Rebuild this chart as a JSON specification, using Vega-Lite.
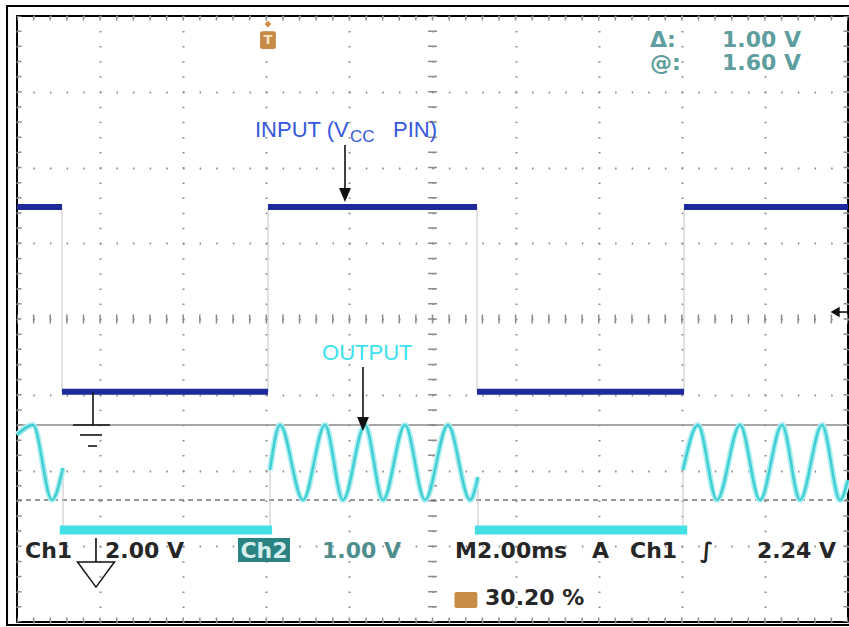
{
  "$schema": "https://vega.github.io/schema/vega-lite/v6.json",
  "width": 831,
  "height": 606,
  "autosize": {"type": "none"},
  "padding": {"left": 17, "top": 16, "right": 1, "bottom": 5},
  "background": "white",
  "config": {"view": {"stroke": "#000", "strokeWidth": 2}},
  "datasets": {
    "frame": [{"t": -0.24, "t2": 20.4, "v": -0.04, "v2": 8.132}],
    "ticksH": [{"t": 0, "t2": 20, "v": 8}, {"t": 0, "t2": 20, "v": 0}, {"t": 0, "t2": 20, "v": 4}],
    "ticksV": [{"t": 0, "v": 0, "v2": 8}, {"t": 20, "v": 0, "v2": 8}, {"t": 10, "v": 0, "v2": 8}],
    "cursorTop": [{"t": 0, "t2": 20, "v": 2.601}],
    "cursorBottom": [{"t": 0, "t2": 20, "v": 1.611}],
    "edges": [
      {"t": 1.083, "v": 3.04, "v2": 5.479},
      {"t": 6.041, "v": 3.04, "v2": 5.479},
      {"t": 11.071, "v": 3.04, "v2": 5.479},
      {"t": 16.053, "v": 3.04, "v2": 5.479},
      {"t": 1.107, "v": 1.215, "v2": 2.033},
      {"t": 6.089, "v": 1.215, "v2": 2.007},
      {"t": 11.095, "v": 1.215, "v2": 1.914},
      {"t": 16.029, "v": 1.215, "v2": 2.007}
    ],
    "outputOff": [{"t": 1.03, "t2": 6.14, "v": 1.215}, {"t": 11.02, "t2": 16.13, "v": 1.215}],
    "output": [
      {"seg": 1, "t": 0, "v": 2.47},
      {"seg": 1, "t": 0.385, "v": 2.601},
      {"seg": 1, "t": 0.842, "v": 1.611},
      {"seg": 1, "t": 1.107, "v": 2.033},
      {"seg": 2, "t": 6.089, "v": 2.007},
      {"seg": 2, "t": 6.33, "v": 2.601},
      {"seg": 2, "t": 6.883, "v": 1.611},
      {"seg": 2, "t": 7.413, "v": 2.601},
      {"seg": 2, "t": 7.846, "v": 1.611},
      {"seg": 2, "t": 8.375, "v": 2.601},
      {"seg": 2, "t": 8.809, "v": 1.611},
      {"seg": 2, "t": 9.338, "v": 2.601},
      {"seg": 2, "t": 9.82, "v": 1.611},
      {"seg": 2, "t": 10.373, "v": 2.601},
      {"seg": 2, "t": 10.903, "v": 1.611},
      {"seg": 2, "t": 11.095, "v": 1.914},
      {"seg": 3, "t": 16.029, "v": 2.007},
      {"seg": 3, "t": 16.39, "v": 2.601},
      {"seg": 3, "t": 16.847, "v": 1.611},
      {"seg": 3, "t": 17.401, "v": 2.601},
      {"seg": 3, "t": 17.882, "v": 1.611},
      {"seg": 3, "t": 18.412, "v": 2.601},
      {"seg": 3, "t": 18.845, "v": 1.611},
      {"seg": 3, "t": 19.374, "v": 2.601},
      {"seg": 3, "t": 19.807, "v": 1.611},
      {"seg": 3, "t": 20, "v": 1.875}
    ],
    "input": [
      {"t": 0, "t2": 1.083, "v": 5.479},
      {"t": 1.083, "t2": 6.041, "v": 3.04},
      {"t": 6.041, "t2": 11.071, "v": 5.479},
      {"t": 11.071, "t2": 16.053, "v": 3.04},
      {"t": 16.053, "t2": 20, "v": 5.479}
    ],
    "strokes": [
      {"t": 1.829, "t2": 1.829, "v": 3.04, "v2": 2.601},
      {"t": 1.348, "t2": 2.238, "v": 2.601, "v2": 2.601},
      {"t": 1.516, "t2": 2.046, "v": 2.469, "v2": 2.469},
      {"t": 1.709, "t2": 1.925, "v": 2.323, "v2": 2.323},
      {"t": 7.894, "t2": 7.894, "v": 6.297, "v2": 5.729},
      {"t": 8.327, "t2": 8.327, "v": 3.366, "v2": 2.706},
      {"t": 1.901, "t2": 1.901, "v": 1.109, "v2": 0.792},
      {"t": 19.69, "t2": 20, "v": 4.092, "v2": 4.092}
    ],
    "arrowHeads": [{"t": 7.894, "v": 5.637}, {"t": 8.327, "v": 2.614}],
    "trigLevel": [{"t": 19.69, "v": 4.092}],
    "groundMark": [{"t": 1.901, "v": 0.627}],
    "ch2Box": [{"t": 5.319, "t2": 6.57, "v": 0.792, "v2": 1.109}],
    "orangeBoxes": [
      {"t": 10.53, "t2": 11.08, "v": 0.185, "v2": 0.396},
      {"t": 5.85, "t2": 6.23, "v": 7.564, "v2": 7.8}
    ],
    "trigPos": [{"t": 6.04, "v": 7.894}],
    "trigT": [{"t": 6.04, "v": 7.683, "label": "T"}],
    "inputLabel": [
      {"t": 5.728, "v": 6.403, "label": "INPUT (V"},
      {"t": 9.049, "v": 6.403, "label": "PIN)"}
    ],
    "inputSub": [{"t": 8.014, "v": 6.337, "label": "CC"}],
    "outputLabel": [{"t": 7.341, "v": 3.459, "label": "OUTPUT"}],
    "cursorText": [
      {"t": 15.235, "v": 7.591, "label": "Δ:"},
      {"t": 16.968, "v": 7.591, "label": "1.00 V"},
      {"t": 15.235, "v": 7.287, "label": "@:"},
      {"t": 16.968, "v": 7.287, "label": "1.60 V"}
    ],
    "statusText": [
      {"t": 0.193, "v": 0.845, "label": "Ch1"},
      {"t": 2.118, "v": 0.845, "label": "2.00 V"},
      {"t": 10.542, "v": 0.845, "label": "M2.00ms"},
      {"t": 13.839, "v": 0.845, "label": "A"},
      {"t": 14.753, "v": 0.845, "label": "Ch1"},
      {"t": 16.438, "v": 0.845, "label": "∫"},
      {"t": 17.81, "v": 0.845, "label": "2.24 V"},
      {"t": 11.264, "v": 0.224, "label": "30.20 %"}
    ],
    "ch2Scale": [{"t": 7.341, "v": 0.845, "label": "1.00 V"}],
    "ch2Text": [{"t": 5.945, "v": 0.845, "label": "Ch2"}]
  },
  "encoding": {
    "x": {
      "field": "t",
      "type": "quantitative",
      "scale": {"domain": [0, 20], "nice": false, "zero": false},
      "axis": {
        "values": [0, 2, 4, 6, 8, 10, 12, 14, 16, 18, 20],
        "title": null, "labels": false, "ticks": false, "domain": false,
        "grid": true, "gridColor": "#8c8c8c", "gridWidth": 2,
        "gridDash": [1.5, 13.65], "gridDashOffset": 0.75
      }
    },
    "y": {
      "field": "v",
      "type": "quantitative",
      "scale": {"domain": [0, 8], "nice": false, "zero": false},
      "axis": {
        "values": [0, 1, 2, 3, 4, 5, 6, 7, 8],
        "title": null, "labels": false, "ticks": false, "domain": false,
        "grid": true, "gridColor": "#8c8c8c", "gridWidth": 2,
        "gridDash": [1.5, 15.12], "gridDashOffset": 0.75
      }
    }
  },
  "layer": [
    {
      "data": {"name": "frame"},
      "mark": {"type": "rect", "fillOpacity": 0, "stroke": "#000", "strokeWidth": 2},
      "encoding": {"x2": {"field": "t2"}, "y2": {"field": "v2"}}
    },
    {
      "data": {"name": "ticksH"},
      "mark": {"type": "rule", "clip": true, "color": "#8c8c8c", "strokeWidth": 9, "strokeDash": [1.5, 15.12], "strokeDashOffset": 0.75},
      "encoding": {"x2": {"field": "t2"}}
    },
    {
      "data": {"name": "ticksV"},
      "mark": {"type": "rule", "clip": true, "color": "#8c8c8c", "strokeWidth": 9, "strokeDash": [1.5, 13.65], "strokeDashOffset": 0.75},
      "encoding": {"y2": {"field": "v2"}}
    },
    {
      "data": {"name": "cursorTop"},
      "mark": {"type": "rule", "color": "#8a8a8a", "strokeWidth": 1.5},
      "encoding": {"x2": {"field": "t2"}}
    },
    {
      "data": {"name": "cursorBottom"},
      "mark": {"type": "rule", "color": "#777", "strokeWidth": 1.5, "strokeDash": [5, 4]},
      "encoding": {"x2": {"field": "t2"}}
    },
    {
      "data": {"name": "edges"},
      "mark": {"type": "rule", "color": "#c4c4c4", "strokeWidth": 1},
      "encoding": {"y2": {"field": "v2"}}
    },
    {
      "data": {"name": "outputOff"},
      "mark": {"type": "rule", "color": "#45e0e6", "strokeWidth": 9},
      "encoding": {"x2": {"field": "t2"}}
    },
    {
      "data": {"name": "output"},
      "mark": {"type": "line", "interpolate": "monotone", "color": "#aeeef0", "strokeWidth": 6},
      "encoding": {"detail": {"field": "seg", "type": "nominal"}}
    },
    {
      "data": {"name": "output"},
      "mark": {"type": "line", "interpolate": "monotone", "color": "#40cfd4", "strokeWidth": 2.5},
      "encoding": {"detail": {"field": "seg", "type": "nominal"}}
    },
    {
      "data": {"name": "input"},
      "mark": {"type": "rule", "color": "#1c2a9c", "strokeWidth": 6},
      "encoding": {"x2": {"field": "t2"}}
    },
    {
      "data": {"name": "strokes"},
      "mark": {"type": "rule", "color": "#111", "strokeWidth": 1.6},
      "encoding": {"x2": {"field": "t2"}, "y2": {"field": "v2"}}
    },
    {
      "data": {"name": "arrowHeads"},
      "mark": {"type": "point", "shape": "M-0.85,-1L0.85,-1L0,1Z", "size": 196, "filled": true, "color": "#111", "opacity": 1}
    },
    {
      "data": {"name": "trigLevel"},
      "mark": {"type": "point", "shape": "triangle-left", "size": 110, "filled": true, "color": "#111", "opacity": 1}
    },
    {
      "data": {"name": "groundMark"},
      "mark": {"type": "point", "shape": "M-1,-0.68L1,-0.68L0,0.68Z", "size": 1369, "filled": false, "color": "#111", "strokeWidth": 1.5, "opacity": 1}
    },
    {
      "data": {"name": "ch2Box"},
      "mark": {"type": "rect", "color": "#2a8282"},
      "encoding": {"x2": {"field": "t2"}, "y2": {"field": "v2"}}
    },
    {
      "data": {"name": "orangeBoxes"},
      "mark": {"type": "rect", "color": "#c98a45", "cornerRadius": 2},
      "encoding": {"x2": {"field": "t2"}, "y2": {"field": "v2"}}
    },
    {
      "data": {"name": "trigPos"},
      "mark": {"type": "point", "shape": "diamond", "size": 45, "filled": true, "color": "#d08a3a", "opacity": 1}
    },
    {
      "data": {"name": "trigT"},
      "mark": {"type": "text", "font": "DejaVu Sans", "fontWeight": "bold", "fontSize": 13, "color": "#f6e4c8", "align": "center", "baseline": "middle"},
      "encoding": {"text": {"field": "label"}}
    },
    {
      "data": {"name": "inputLabel"},
      "mark": {"type": "text", "font": "Liberation Sans", "fontSize": 22, "color": "#3558dc", "align": "left", "baseline": "alphabetic"},
      "encoding": {"text": {"field": "label"}}
    },
    {
      "data": {"name": "inputSub"},
      "mark": {"type": "text", "font": "Liberation Sans", "fontSize": 17, "color": "#3558dc", "align": "left", "baseline": "alphabetic"},
      "encoding": {"text": {"field": "label"}}
    },
    {
      "data": {"name": "outputLabel"},
      "mark": {"type": "text", "font": "Liberation Sans", "fontSize": 22, "color": "#38e2ee", "align": "left", "baseline": "alphabetic"},
      "encoding": {"text": {"field": "label"}}
    },
    {
      "data": {"name": "cursorText"},
      "mark": {"type": "text", "font": "DejaVu Sans", "fontWeight": "bold", "fontSize": 22, "color": "#5e9e9e", "align": "left", "baseline": "alphabetic"},
      "encoding": {"text": {"field": "label"}}
    },
    {
      "data": {"name": "statusText"},
      "mark": {"type": "text", "font": "DejaVu Sans", "fontWeight": "bold", "fontSize": 22, "color": "#262626", "align": "left", "baseline": "alphabetic"},
      "encoding": {"text": {"field": "label"}}
    },
    {
      "data": {"name": "ch2Scale"},
      "mark": {"type": "text", "font": "DejaVu Sans", "fontWeight": "bold", "fontSize": 22, "color": "#4f8e8e", "align": "left", "baseline": "alphabetic"},
      "encoding": {"text": {"field": "label"}}
    },
    {
      "data": {"name": "ch2Text"},
      "mark": {"type": "text", "font": "DejaVu Sans", "fontWeight": "bold", "fontSize": 22, "color": "#d7eeee", "align": "center", "baseline": "alphabetic"},
      "encoding": {"text": {"field": "label"}}
    }
  ]
}
